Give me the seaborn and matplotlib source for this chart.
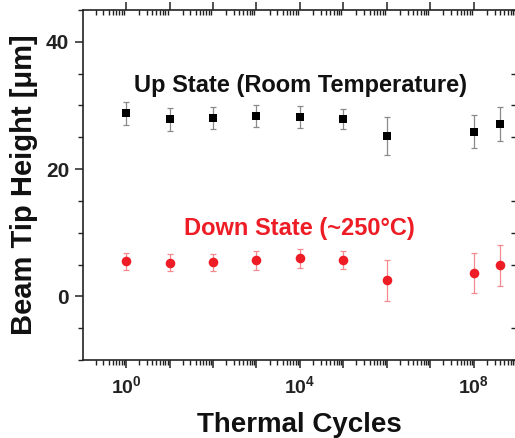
import numpy as np
import pandas as pd
import matplotlib
matplotlib.use("Agg")
import matplotlib.pyplot as plt
import matplotlib.ticker as mticker
import seaborn as sns

# ---- data ----
cycles = [1, 1e1, 1e2, 1e3, 1e4, 1e5, 1e6, 1e8, 4e8]
up_height = [28.8, 27.8, 28.0, 28.3, 28.2, 27.9, 25.2, 25.9, 27.1]
up_err = [1.8, 1.8, 1.7, 1.75, 1.75, 1.6, 3.0, 2.6, 2.7]
down_height = [5.5, 5.3, 5.35, 5.7, 6.0, 5.7, 2.5, 3.7, 4.9]
down_err = [1.3, 1.35, 1.3, 1.5, 1.5, 1.4, 3.15, 3.1, 3.2]
up_label = "Up State (Room Temperature)"
down_label = "Down State (~250\u00b0C)"
x_title = "Thermal Cycles"
y_title = "Beam Tip Height [\u03bcm]"

sns.set_style("ticks")
plt.rcParams['font.family'] = ['Liberation Sans', 'DejaVu Sans']
plt.rcParams['font.weight'] = 'bold'
plt.rcParams['mathtext.fontset'] = 'custom'
plt.rcParams['mathtext.rm'] = 'Liberation Sans:bold'
plt.rcParams['mathtext.bf'] = 'Liberation Sans:bold'
plt.rcParams['mathtext.it'] = 'Liberation Sans:bold'

df = pd.DataFrame({"cycles": cycles, "up": up_height, "up_err": up_err,
                   "down": down_height, "down_err": down_err})

fig = plt.figure(figsize=(5.15, 4.38), dpi=100)
ax = fig.add_axes([83/515, (438-360)/438, 433/515, 350/438])

red = "#ee1c25"
ax.errorbar(df["cycles"], df["up"], yerr=df["up_err"], fmt="none",
            ecolor="#8a8a8a", elinewidth=0.9, capsize=2.5, capthick=0.9, zorder=2)
ax.errorbar(df["cycles"], df["down"], yerr=df["down_err"], fmt="none",
            ecolor="#f48a8f", elinewidth=0.9, capsize=2.5, capthick=0.9, zorder=2)
sns.scatterplot(data=df, x="cycles", y="up", marker="s", s=38, color="black",
                edgecolor="black", linewidth=0, ax=ax, zorder=3)
sns.scatterplot(data=df, x="cycles", y="down", marker="o", s=48, color=red,
                edgecolor=red, linewidth=0, ax=ax, zorder=3)

ax.set_xscale("log")
ax.set_xlim(10**-0.99, 10**8.97)
ax.set_ylim(-10, 45)

ax.xaxis.set_major_locator(mticker.LogLocator(base=10, numticks=20))
ax.xaxis.set_minor_locator(mticker.LogLocator(base=10, subs=np.arange(2, 10), numticks=20))

def fmt(v, pos):
    e = int(round(np.log10(v)))
    return r"$\mathbf{10^{%d}}$" % e if e in (0, 4, 8) else ""
ax.xaxis.set_major_formatter(mticker.FuncFormatter(fmt))
ax.xaxis.set_minor_formatter(mticker.NullFormatter())

ax.yaxis.set_major_locator(mticker.FixedLocator([0, 20, 40]))
ax.yaxis.set_minor_locator(mticker.MultipleLocator(5))

for s in ax.spines.values():
    s.set_linewidth(1.2)
    s.set_visible(True)
    s.set_color("#222222")

ax.tick_params(axis="both", which="major", direction="out", length=6, width=1.1,
               colors="#222222", pad=4)
ax.tick_params(axis="both", which="minor", direction="out", length=3.5, width=1.0, colors="#222222")
ax.tick_params(top=True, right=True, which="both")
for t in ax.xaxis.get_major_ticks() + ax.xaxis.get_minor_ticks():
    t.tick2line.set_marker(3)
for t in ax.yaxis.get_major_ticks() + ax.yaxis.get_minor_ticks():
    t.tick2line.set_marker(0)
ax.tick_params(axis="x", labelsize=14, pad=5)
ax.tick_params(axis="y", labelsize=15, pad=4)

ax.set_xlabel(x_title, fontsize=20, fontweight="bold", labelpad=11)
ax.set_ylabel(y_title, fontsize=21, fontweight="bold", labelpad=6)
ax.xaxis.label.set_color("#111111")
ax.yaxis.label.set_color("#111111")

ax.text(10**4.02, 33.2, up_label, fontsize=17, fontweight="bold", color="#111111",
        ha="center", va="center")
ax.text(10**3.98, 10.7, down_label, fontsize=17, fontweight="bold", color=red,
        ha="center", va="center")

fig.savefig("out.png", dpi=100)
